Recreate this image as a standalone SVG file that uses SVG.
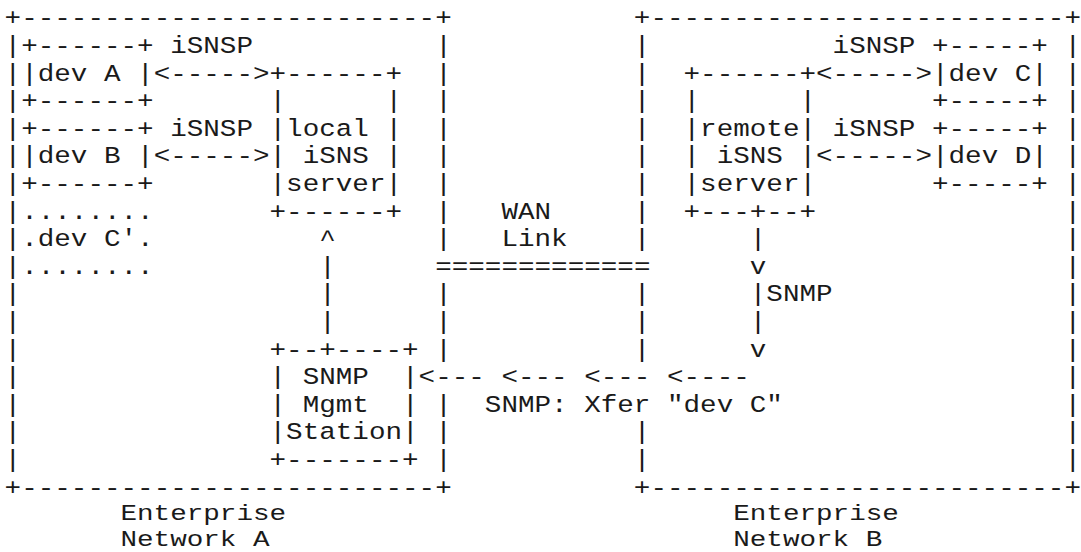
<svg xmlns="http://www.w3.org/2000/svg" width="1081" height="552" viewBox="0 0 1081 552" xml:space="preserve">
<style>
text { font-family: "Liberation Mono", "DejaVu Sans Mono", monospace; font-size: 27.6px; fill: #1a1a1a; white-space: pre; }
</style>
<rect x="0" y="0" width="1081" height="552" fill="#ffffff"/>
<g transform="scale(1 0.85)">
  <g id="enterprise-network-a">
    <text x="4.6" y="30">+-------------------------+</text>
    <text x="4.6 4.6 4.6 4.6 4.6 4.6 4.6 4.6 4.6 4.6 4.6 4.6 4.6 4.6 4.6 4.6" y="62.47 94.94 127.41 159.88 192.35 224.82 257.29 289.76 322.23 354.70 387.17 419.64 452.11 484.58 517.05 549.52">||||||||||||||||</text>
    <text x="435.16 435.16 435.16 435.16 435.16 435.16 435.16 435.16 435.16 435.16 435.16 435.16 435.16 435.16" y="62.47 94.94 127.41 159.88 192.35 224.82 257.29 289.76 354.70 387.17 419.64 484.58 517.05 549.52">||||||||||||||</text>
    <text x="4.6" y="581.99">+-------------------------+</text>
    <g transform="scale(1 0.94118)">
      <text x="120.52" y="650.6">Enterprise</text>
      <text x="120.52" y="681.9">Network A</text>
    </g>
  </g>
  <g id="enterprise-network-b">
    <text x="633.88" y="30">+-------------------------+</text>
    <text x="633.88 633.88 633.88 633.88 633.88 633.88 633.88 633.88 633.88 633.88 633.88 633.88 633.88" y="62.47 94.94 127.41 159.88 192.35 224.82 257.29 289.76 354.70 387.17 419.64 517.05 549.52">|||||||||||||</text>
    <text x="1064.44 1064.44 1064.44 1064.44 1064.44 1064.44 1064.44 1064.44 1064.44 1064.44 1064.44 1064.44 1064.44 1064.44 1064.44 1064.44" y="62.47 94.94 127.41 159.88 192.35 224.82 257.29 289.76 322.23 354.70 387.17 419.64 452.11 484.58 517.05 549.52">||||||||||||||||</text>
    <text x="633.88" y="581.99">+-------------------------+</text>
    <g transform="scale(1 0.94118)">
      <text x="733.24" y="650.6">Enterprise</text>
      <text x="733.24" y="681.9">Network B</text>
    </g>
  </g>
  <g id="dev-a">
    <text x="21.16" y="62.47">+------+</text>
    <text x="21.16" y="94.94">|dev A |</text>
    <text x="21.16" y="127.41">+------+</text>
  </g>
  <g id="dev-b">
    <text x="21.16" y="159.88">+------+</text>
    <text x="21.16" y="192.35">|dev B |</text>
    <text x="21.16" y="224.82">+------+</text>
  </g>
  <g id="dev-c-prime">
    <text x="21.16" y="257.29">........</text>
    <text x="21.16" y="289.76">.dev C'.</text>
    <text x="21.16" y="322.23">........</text>
  </g>
  <g id="local-isns-server">
    <text x="269.56" y="94.94">+------+</text>
    <text x="269.56" y="127.41">|      |</text>
    <text x="269.56" y="159.88">|local |</text>
    <text x="269.56" y="192.35">| iSNS |</text>
    <text x="269.56" y="224.82">|server|</text>
    <text x="269.56" y="257.29">+------+</text>
  </g>
  <g id="snmp-mgmt-station">
    <text x="269.56" y="419.64">+--+----+</text>
    <text x="269.56" y="452.11">| SNMP  |</text>
    <text x="269.56" y="484.58">| Mgmt  |</text>
    <text x="269.56" y="517.05">|Station|</text>
    <text x="269.56" y="549.52">+-------+</text>
  </g>
  <g id="remote-isns-server">
    <text x="683.56" y="94.94">+------+</text>
    <text x="683.56" y="127.41">|      |</text>
    <text x="683.56" y="159.88">|remote|</text>
    <text x="683.56" y="192.35">| iSNS |</text>
    <text x="683.56" y="224.82">|server|</text>
    <text x="683.56" y="257.29">+---+--+</text>
  </g>
  <g id="dev-c">
    <text x="931.96" y="62.47">+-----+</text>
    <text x="931.96" y="94.94">|dev C|</text>
    <text x="931.96" y="127.41">+-----+</text>
  </g>
  <g id="dev-d">
    <text x="931.96" y="159.88">+-----+</text>
    <text x="931.96" y="192.35">|dev D|</text>
    <text x="931.96" y="224.82">+-----+</text>
  </g>
  <g id="wan-link">
    <text x="501.4" y="257.29">WAN</text>
    <text x="501.4" y="289.76">Link</text>
    <text x="435.16" y="322.23">=============</text>
  </g>
  <g id="connectors">
    <text x="170.2" y="62.47">iSNSP</text>
    <text x="153.64" y="94.94">&lt;-----&gt;</text>
    <text x="170.2" y="159.88">iSNSP</text>
    <text x="153.64" y="192.35">&lt;-----&gt;</text>
    <text x="832.6" y="62.47">iSNSP</text>
    <text x="816.04" y="94.94">&lt;-----&gt;</text>
    <text x="832.6" y="159.88">iSNSP</text>
    <text x="816.04" y="192.35">&lt;-----&gt;</text>
    <text x="319.24" y="289.76">^</text>
    <text x="319.24 319.24 319.24" y="322.23 354.70 387.17">|||</text>
    <text x="749.8" y="289.76">|</text>
    <text x="749.8" y="322.23">v</text>
    <text x="749.8" y="354.70">|SNMP</text>
    <text x="749.8" y="387.17">|</text>
    <text x="749.8" y="419.64">v</text>
    <text x="418.6" y="452.11">&lt;--- &lt;--- &lt;--- &lt;----</text>
    <text x="484.84" y="484.58">SNMP: Xfer "dev C"</text>
  </g>
</g>
</svg>
